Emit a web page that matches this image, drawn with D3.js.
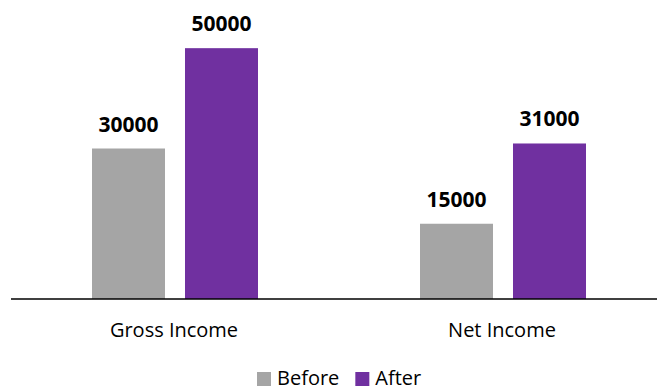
<!DOCTYPE html>
<html>
<head>
<meta charset="utf-8">
<script src="https://cdn.jsdelivr.net/npm/d3@7"></script>
<style>
  body { margin: 0; background: #fff; }
  text { font-family: "Open Sans", sans-serif; fill: #000; }
</style>
</head>
<body>
<svg id="chart" width="657" height="391"></svg>
<script>
// chart data
var categories = ["Gross Income", "Net Income"];
var series = ["Before", "After"];
var before = [30000, 15000];
var after = [50000, 31000];
var colors = ["#A5A5A5", "#7030A0"];

var svg = d3.select("#chart");

var baseY = 299;

// outer scale: one band per category
var x0 = d3.scaleBand()
    .domain(categories)
    .range([11, 667])
    .paddingInner(0)
    .paddingOuter(0);

// inner scale: bars inside each band
var x1 = d3.scaleBand()
    .domain(series)
    .range([81, 247])
    .paddingInner(0.215)
    .paddingOuter(0);

var y = d3.scaleLinear()
    .domain([0, 60000])
    .range([baseY, -2]);

var color = d3.scaleOrdinal().domain(series).range(colors);

//flatten into rows for drawing
var rows = [];
categories.forEach(function(c, i) {
    rows.push({cat: c, key: "Before", value: before[i]});
    rows.push({cat: c, key: "After", value: after[i]});
});

svg.selectAll("rect.bar")
    .data(rows)
    .enter()
    .append("rect")
    .attr("class", "bar")
    .attr("x", function(d) { return x0(d.cat) + x1(d.key); })
    .attr("y", function(d) { return y(d.value); })
    .attr("width", x1.bandwidth())
    .attr("height", function(d) { return baseY - y(d.value); })
    .attr("fill", function(d) { return color(d.key); });

// value labels
svg.selectAll("text.val")
    .data(rows)
    .enter()
    .append("text")
    .attr("class", "val")
    .attr("x", function(d) { return x0(d.cat) + x1(d.key) + x1.bandwidth() / 2; })
    .attr("y", function(d) { return y(d.value) - 17; })
    .attr("text-anchor", "middle")
    .style("font-size", "21px")
    .style("font-weight", "bold")
    .text(function(d) { return d.value; });

// axis line
svg.append("line")
    .attr("x1", 11)
    .attr("x2", 657)
    .attr("y1", baseY)
    .attr("y2", baseY)
    .attr("stroke", "#000")
    .attr("stroke-width", 1.3);

// category labels
svg.selectAll("text.cat")
    .data(categories)
    .enter()
    .append("text")
    .attr("class", "cat")
    .attr("x", function(d) { return x0(d) + x0.bandwidth() / 2 - 1; })
    .attr("y", 337)
    .attr("text-anchor", "middle")
    .style("font-size", "20px")
    .text(function(d) { return d; });

// legend (kept just inside the bottom edge)
var legend = svg.append("g");
var lx = 257;
series.forEach(function(s, i) {
    legend.append("rect")
        .attr("x", lx)
        .attr("y", 372)
        .attr("width", 14)
        .attr("height", 14)
        .attr("fill", colors[i]);
    var t = legend.append("text")
        .attr("x", lx + 20)
        .attr("y", 385)
        .style("font-size", "20px")
        .text(s);
    lx = lx + 20 + t.node().getComputedTextLength() + 16;
});
</script>
</body>
</html>
